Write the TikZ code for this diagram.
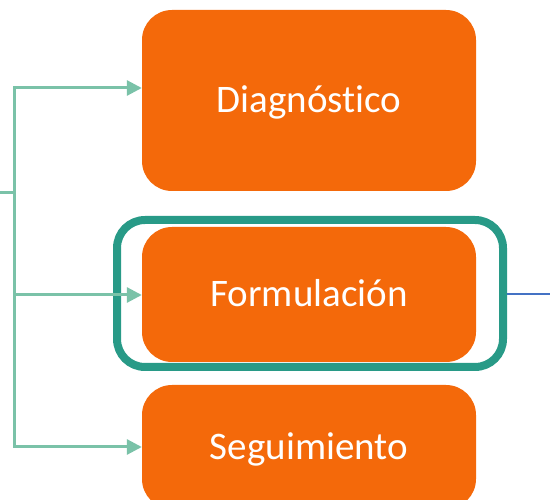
\documentclass[tikz,border=0pt]{standalone}
\usepackage{fontspec}
\setmainfont{Carlito}[Ligatures=NoCommon]
\usetikzlibrary{arrows.meta}
\definecolor{boxorange}{HTML}{F4690A}
\definecolor{frameteal}{HTML}{289A87}
\definecolor{linkteal}{HTML}{7AC2A8}
\definecolor{linkblue}{HTML}{4472C4}
\begin{document}
\begin{tikzpicture}[x=1pt,y=-1pt,
  stage/.style={rectangle, rounded corners=30pt, fill=boxorange, draw=none,
    text=white, minimum width=334pt, font=\fontsize{39}{46}\selectfont, inner sep=0pt,
    text height=25pt, text depth=0pt},
  frame/.style={rectangle, rounded corners=28pt, draw=frameteal, line width=8pt,
    minimum width=386pt, minimum height=147pt, inner sep=0pt},
  link/.style={draw=linkteal, line width=3pt, -{Triangle[length=15pt,width=15pt]}},
  bare/.style={draw=linkteal, line width=3pt}]
\useasboundingbox (0,0) rectangle (550,500);
\clip (0,0) rectangle (550,500);
\node[stage, minimum height=181pt] (diag) at (309,100.5) {Diagnóstico};
\node[stage, minimum height=135pt] (form) at (309,294.5) {Formulación};
\node[stage, minimum height=124pt] (seg) at (309,447) {Seguimiento};
\node[frame] (fr) at (310,293.5) {};
\coordinate (in) at (0,193);
\coordinate (j) at (14,193);
\coordinate (t1) at (0,88);
\coordinate (t2) at (0,295);
\coordinate (t3) at (0,447);
\coordinate (out) at (550,294);
\draw[bare] (in) -- (j);
\draw[link] (j) |- (diag.west |- t1);
\draw[link] (j) |- (form.west |- t2);
\draw[link] (j) |- (seg.west |- t3);
\draw[draw=linkblue, line width=2pt] (fr.east |- out) -- (out);
\end{tikzpicture}
\end{document}
